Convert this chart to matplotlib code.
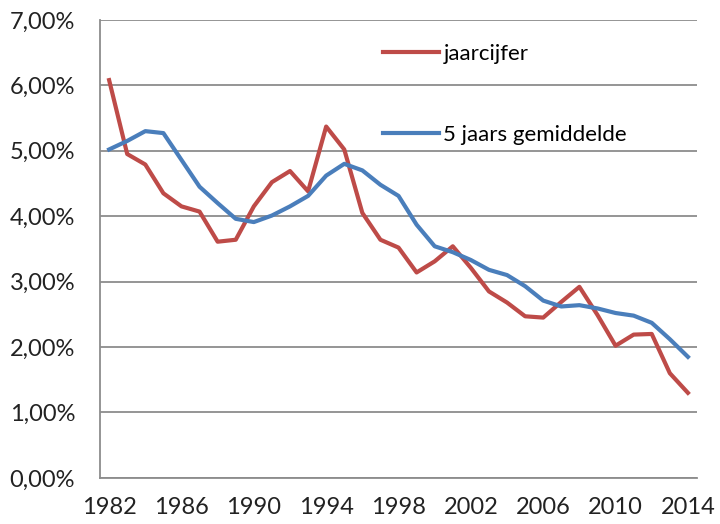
import matplotlib.pyplot as plt
from matplotlib.ticker import FuncFormatter

years = list(range(1982, 2015))

# jaarcijfer (percent)
jaarcijfer = [6.08, 4.95, 4.79, 4.35, 4.15, 4.07, 3.61, 3.64, 4.15, 4.52,
              4.69, 4.38, 5.37, 5.02, 4.05, 3.64, 3.52, 3.14, 3.31, 3.54,
              3.21, 2.85, 2.68, 2.47, 2.45, 2.69, 2.92, 2.49, 2.02, 2.19,
              2.20, 1.60, 1.30]

# 5 jaars gemiddelde (percent)
gemiddelde = [5.02, 5.15, 5.30, 5.27, 4.86, 4.45, 4.20, 3.96, 3.91, 4.01,
              4.15, 4.31, 4.62, 4.80, 4.70, 4.48, 4.31, 3.87, 3.54, 3.45,
              3.33, 3.18, 3.10, 2.93, 2.71, 2.62, 2.64, 2.59, 2.52, 2.48,
              2.37, 2.12, 1.85]

x_ticks = list(range(1982, 2015, 4))

plt.rcParams['font.family'] = ['Lato', 'DejaVu Sans']

fig = plt.figure(figsize=(7.2, 5.24), dpi=100)
ax = fig.add_axes([0.139, 0.088, 0.829, 0.874])

ax.plot(years, jaarcijfer, color='#BE4B48', linewidth=3, label='jaarcijfer',
        solid_joinstyle='round')
ax.plot(years, gemiddelde, color='#4A7EBB', linewidth=3, label='5 jaars gemiddelde',
        solid_joinstyle='round')

ax.set_xlim(1981.5, 2014.5)
ax.set_ylim(0, 7)
ax.set_xticks(x_ticks)
ax.set_yticks([i for i in range(8)])
ax.yaxis.set_major_formatter(FuncFormatter(lambda v, p: f"{v:.2f}%".replace('.', ',')))

ax.grid(axis='y', color='#8C8C8C', linewidth=1.3)
ax.set_axisbelow(True)
ax.tick_params(length=0, labelsize=17, colors='#222222')
ax.tick_params(axis='y', pad=18)
ax.tick_params(axis='x', pad=14)

for side in ['top', 'right']:
    ax.spines[side].set_visible(False)
for side in ['left', 'bottom']:
    ax.spines[side].set_color('#8C8C8C')
    ax.spines[side].set_linewidth(1.3)

ax.legend(loc='upper left', bbox_to_anchor=(0.474, 0.948), frameon=False,
          fontsize=16, labelspacing=2.75, handlelength=2.5, handletextpad=0.22,
          borderpad=0, borderaxespad=0)

fig.savefig('out.png', dpi=100)
